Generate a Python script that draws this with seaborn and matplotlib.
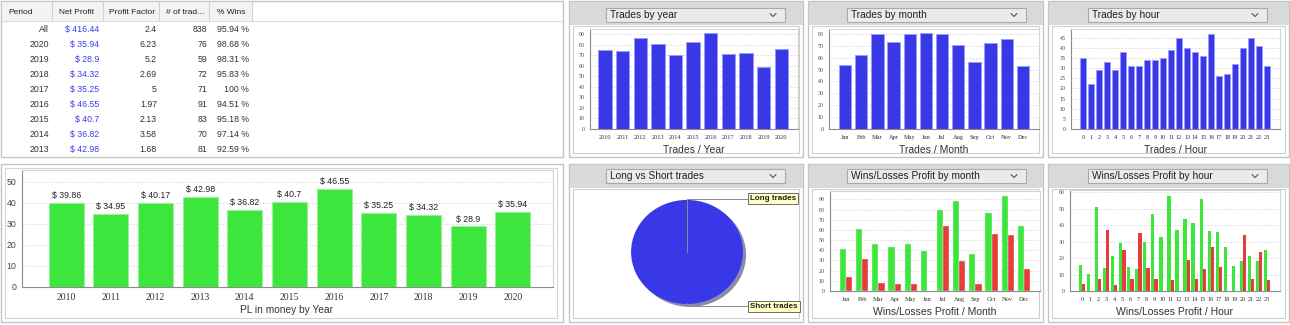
import numpy as np
import pandas as pd
import matplotlib.pyplot as plt
from matplotlib.patches import Rectangle
import seaborn as sns

# ---- data ----
table_cols = ["Period", "Net Profit", "Profit Factor", "# of trad...", "% Wins"]
table_periods = ["All", "2020", "2019", "2018", "2017", "2016", "2015", "2014", "2013"]
table_net = ["$ 416.44", "$ 35.94", "$ 28.9", "$ 34.32", "$ 35.25", "$ 46.55", "$ 40.7", "$ 36.82", "$ 42.98"]
table_pf = ["2.4", "6.23", "5.2", "2.69", "5", "1.97", "2.13", "3.58", "1.68"]
table_trades = ["838", "76", "59", "72", "71", "91", "83", "70", "81"]
table_wins = ["95.94 %", "98.68 %", "98.31 %", "95.83 %", "100 %", "94.51 %", "95.18 %", "97.14 %", "92.59 %"]

years = ["2010", "2011", "2012", "2013", "2014", "2015", "2016", "2017", "2018", "2019", "2020"]
pl_by_year = [39.86, 34.95, 40.17, 42.98, 36.82, 40.7, 46.55, 35.25, 34.32, 28.9, 35.94]
trades_by_year = [75, 74, 86, 81, 70, 83, 91, 71, 72, 59, 76]

months = ["Jan", "Feb", "Mar", "Apr", "May", "Jun", "Jul", "Aug", "Sep", "Oct", "Nov", "Dec"]
trades_by_month = [54, 62, 80, 73, 80, 81, 80, 71, 56, 72, 76, 53]
wins_by_month = [41, 61, 46, 43, 46, 39, 80, 88, 36, 77, 93, 64]
losses_by_month = [14, 31, 8, 7, 7, 0, 64, 29, 7, 56, 55, 22]

hours = [str(h) for h in range(24)]
trades_by_hour = [35, 22, 29, 33, 29, 38, 31, 31, 34, 34, 35, 39, 45, 40, 38, 36, 47, 26, 27, 32, 40, 45, 41, 31]
wins_by_hour = [16, 10.5, 51, 14, 21, 29, 14.5, 13.5, 29.5, 47, 33, 58, 37, 44, 41.5, 56, 36.5, 36, 26.5, 15.5, 18, 21, 18.5, 25]
losses_by_hour = [4, 0, 7, 37, 3.5, 25, 7, 35, 14, 7, 0, 6.5, 0, 19, 7, 13.5, 27, 14.5, 0, 0, 34, 7, 23.5, 6.5]

pie_labels = ["Long trades", "Short trades"]
pie_counts = [838, 0]

BLUE = "#3838e6"
GREEN = "#3ce63c"
RED = "#e63c3c"
SERIF = ["Liberation Serif", "DejaVu Serif"]

sns.set_style("white")
plt.rcParams['font.family'] = ['Liberation Sans', 'DejaVu Sans']

W, H = 1290, 325
fig = plt.figure(figsize=(W / 100, H / 100), dpi=100)


def box(x, y, w, h):
    # pixel box (top-left origin) -> figure fraction
    return [x / W, 1 - (y + h) / H, w / W, h / H]


bg = fig.add_axes([0, 0, 1, 1])
bg.set_xlim(0, W)
bg.set_ylim(H, 0)
bg.axis('off')


def panel(x, y, w, h, header=True):
    bg.add_patch(Rectangle((x, y), w, h, fc='white', ec='#c4c4c4', lw=1))
    if header:
        bg.add_patch(Rectangle((x + 0.5, y + 0.5), w - 1, 23.5, fc='#d9d9d9', ec='none'))
        bg.add_patch(Rectangle((x + 4, y + 25), w - 8, h - 29, fc='white', ec='#cfcfcf', lw=0.8))


def combo(x, y, label, w=179, h=14):
    bg.add_patch(Rectangle((x, y), w, h, fc='#ebebeb', ec='#a9a9a9', lw=0.8))
    bg.text(x + 4, y + h / 2 + 3, label, fontsize=7.3, va='baseline', ha='left', color='#202020')
    cy = y + h / 2
    bg.plot([x + w - 15, x + w - 12, x + w - 9], [cy - 1.5, cy + 1.5, cy - 1.5], color='#555555', lw=0.8)


# panels
panel(1, 1, 562, 156, header=False)
panel(1, 164, 562, 158, header=False)
bg.add_patch(Rectangle((5, 168), 552, 150, fc='white', ec='#d4d4d4', lw=0.8))
for px, pw in [(569, 234), (808, 235), (1048, 241)]:
    panel(px, 1, pw, 156)
    panel(px, 164, pw, 158)
combo(606, 8, "Trades by year")
combo(847, 8, "Trades by month")
combo(1088, 8, "Trades by hour")
combo(606, 169, "Long vs Short trades")
combo(847, 169, "Wins/Losses Profit by month")
combo(1088, 169, "Wins/Losses Profit by hour")

# ---- table ----
bg.add_patch(Rectangle((1.5, 1.5), 251, 20, fc='#f3f3f3', ec='none'))
bg.plot([1.5, 562], [21, 21], color='#dcdcdc', lw=0.8)
for sx in [52, 103, 159, 209, 252]:
    bg.plot([sx, sx], [1.5, 21], color='#d2d2d2', lw=0.8)
head_x = [8, 59, 109, 166, 217]
for hx, name in zip(head_x, table_cols):
    bg.text(hx, 14, name, fontsize=6.0, va='baseline', ha='left', color='#202020')
col_right = [49, 99, 157, 207, 249]
for i in range(len(table_periods)):
    ry = 32 + 15 * i
    row = [table_periods[i], table_net[i], table_pf[i], table_trades[i], table_wins[i]]
    for j, (rx, val) in enumerate(zip(col_right, row)):
        bg.text(rx, ry, val, fontsize=6.3, va='baseline', ha='right',
                color='#3c3cf0' if j == 1 else '#333333')


def style_chart(ax, xlim, ylim, yticks, ysize=4.2, xsize=4.6):
    ax.set_xlim(*xlim)
    ax.set_ylim(*ylim)
    ax.set_yticks(yticks)
    ax.yaxis.grid(True, ls=(0, (2, 2)), color='#d6d6d6', lw=0.6)
    ax.set_axisbelow(True)
    ax.set_xlabel('')
    ax.set_ylabel('')
    for s in ax.spines.values():
        s.set_color('#d2d2d2')
        s.set_linewidth(0.8)
    ax.spines['left'].set_color('#8c8c8c')
    ax.spines['bottom'].set_color('#8c8c8c')
    ax.tick_params(axis='both', length=2, width=0.6, color='#8c8c8c', pad=2)
    for t in ax.get_yticklabels():
        t.set_fontfamily(SERIF)
        t.set_fontsize(ysize)
        t.set_color('#444444')
    for t in ax.get_xticklabels():
        t.set_fontfamily(SERIF)
        t.set_fontsize(xsize)
        t.set_color('#333333')


# ---- PL by year ----
ax = fig.add_axes(box(22, 170, 531, 117))
sns.barplot(x=years, y=pl_by_year, color=GREEN, saturation=1, width=0.78,
            edgecolor='#9af09a', linewidth=0.8, ax=ax)
style_chart(ax, (-0.99, 10.9), (0, 55.7), [0, 10, 20, 30, 40, 50], ysize=6.3, xsize=7)
for t in ax.get_yticklabels():
    t.set_fontfamily(['Liberation Sans', 'DejaVu Sans'])
ax.bar_label(ax.containers[0], labels=[f"$ {v:g}" for v in pl_by_year], fontsize=6.3, padding=2, color='#222222')
bg.text(287, 310, "PL in money by Year", fontsize=7.3, ha='center', va='center', color='#333333')

# ---- trades by year ----
ax = fig.add_axes(box(590, 29, 208, 100))
sns.barplot(x=years, y=trades_by_year, color=BLUE, saturation=1, width=0.76,
            edgecolor='#9a9aff', linewidth=0.7, ax=ax)
style_chart(ax, (-0.85, 10.95), (0, 95), range(0, 91, 10))
bg.text(694, 150, "Trades / Year", fontsize=7.5, ha='center', va='center', color='#333333')

# ---- trades by month ----
ax = fig.add_axes(box(829, 29, 210, 100))
sns.barplot(x=months, y=trades_by_month, color=BLUE, saturation=1, width=0.76,
            edgecolor='#9a9aff', linewidth=0.7, ax=ax)
style_chart(ax, (-1.0, 12.0), (0, 84.2), range(0, 81, 10))
bg.text(934, 150, "Trades / Month", fontsize=7.5, ha='center', va='center', color='#333333')

# ---- trades by hour ----
ax = fig.add_axes(box(1071, 29, 209, 100))
sns.barplot(x=hours, y=trades_by_hour, color=BLUE, saturation=1, width=0.76,
            edgecolor='#9a9aff', linewidth=0.6, ax=ax)
style_chart(ax, (-1.5, 24.6), (0, 49.3), range(0, 46, 5))
bg.text(1175, 150, "Trades / Hour", fontsize=7.5, ha='center', va='center', color='#333333')

# ---- long vs short pie ----
ax = fig.add_axes(box(574, 189, 226, 128))
ax.pie(pie_counts, colors=[BLUE, BLUE], startangle=90, counterclock=False,
       shadow={'ox': 0.04, 'oy': -0.04, 'shade': 0.6}, wedgeprops=dict(lw=0))
ax.set_aspect('auto')
ax.set_xlim(-2.02, 2.02)
ax.set_ylim(-1.25, 1.21)
ax.axis('off')
ax.plot([0, 0, 1.11], [0, 1.02, 1.02], color='#8a8a8a', lw=0.7)
ax.plot([0, 0, 1.11], [-0.99, -1.04, -1.04], color='#8a8a8a', lw=0.7)
for ly, lab in zip([1.02, -1.04], pie_labels):
    ax.text(1.13, ly, lab, fontsize=5.8, fontweight='bold', ha='left', va='center', color='#222222',
            bbox=dict(boxstyle='square,pad=0.25', fc='#ffffc4', ec='#555555', lw=0.6))

# ---- wins/losses by month ----
wl_month = pd.DataFrame({"month": months * 2,
                         "value": wins_by_month + losses_by_month,
                         "kind": ["Wins"] * 12 + ["Losses"] * 12})
ax = fig.add_axes(box(830, 191, 210, 100))
sns.barplot(data=wl_month, x="month", y="value", hue="kind", palette=[GREEN, RED], saturation=1,
            width=0.76, edgecolor='#f0f0f0', linewidth=0.3, legend=False, ax=ax)
style_chart(ax, (-1.0, 12.0), (0, 98.2), range(0, 91, 10))
bg.text(935, 312, "Wins/Losses Profit / Month", fontsize=7.5, ha='center', va='center', color='#333333')

# ---- wins/losses by hour ----
wl_hour = pd.DataFrame({"hour": hours * 2,
                        "value": wins_by_hour + losses_by_hour,
                        "kind": ["Wins"] * 24 + ["Losses"] * 24})
ax = fig.add_axes(box(1070, 190, 210, 101))
sns.barplot(data=wl_hour, x="hour", y="value", hue="kind", palette=[GREEN, RED], saturation=1,
            width=0.8, linewidth=0, legend=False, ax=ax)
style_chart(ax, (-1.5, 24.6), (0, 61.4), range(0, 61, 10))
bg.text(1175, 312, "Wins/Losses Profit / Hour", fontsize=7.5, ha='center', va='center', color='#333333')

fig.savefig("out.png", dpi=100)
